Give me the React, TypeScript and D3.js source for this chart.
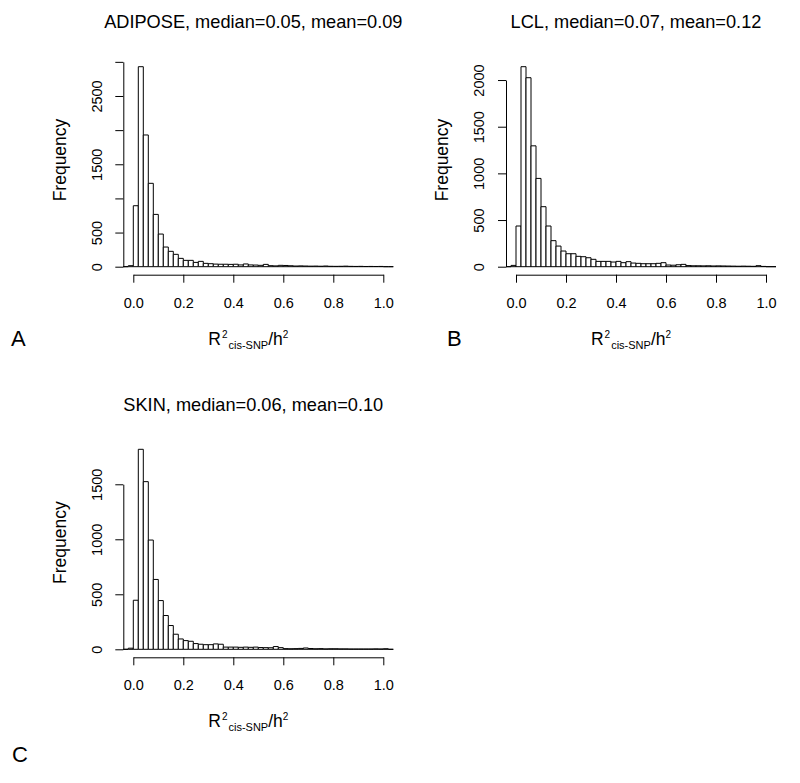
import React, { useEffect, useRef } from 'react';
import * as d3 from 'd3';

// histogram bin edges (width 0.02)
const binEdges = [
  -0.04, -0.02, 0, 0.02, 0.04, 0.06, 0.08, 0.1, 0.12, 0.14, 0.16, 0.18, 0.2, 0.22,
  0.24, 0.26, 0.28, 0.3, 0.32, 0.34, 0.36, 0.38, 0.4, 0.42, 0.44, 0.46, 0.48, 0.5,
  0.52, 0.54, 0.56, 0.58, 0.6, 0.62, 0.64, 0.66, 0.68, 0.7, 0.72, 0.74, 0.76, 0.78,
  0.8, 0.82, 0.84, 0.86, 0.88, 0.9, 0.92, 0.94, 0.96, 0.98, 1.0, 1.02, 1.04,
];

const adiposeCounts = [
  0, 15, 893, 2929, 1929, 1221, 766, 478, 288, 225, 181, 122, 93, 93,
  63, 78, 49, 44, 38, 36, 36, 34, 36, 26, 40, 26, 24, 20,
  34, 15, 12, 20, 18, 14, 10, 12, 10, 8, 9, 7, 10, 6,
  5, 6, 8, 5, 4, 5, 3, 4, 3, 4, 0, 0,
];

const lclCounts = [
  0, 14, 436, 2143, 2025, 1295, 946, 643, 436, 279, 221, 168, 139, 139,
  111, 107, 96, 79, 57, 57, 57, 50, 57, 43, 54, 39, 36, 32,
  32, 32, 36, 43, 18, 16, 21, 25, 12, 10, 10, 9, 10, 8,
  9, 8, 7, 6, 5, 6, 5, 4, 11, 3, 0, 0,
];

const skinCounts = [
  0, 10, 446, 1818, 1524, 993, 635, 443, 307, 216, 137, 94, 79, 73,
  52, 46, 42, 42, 49, 46, 20, 20, 20, 18, 20, 18, 20, 16,
  15, 14, 25, 15, 6, 5, 6, 8, 12, 7, 5, 6, 4, 5,
  5, 4, 4, 3, 3, 3, 3, 3, 4, 3, 5, 0,
];

const xTicks = [0, 0.2, 0.4, 0.6, 0.8, 1.0];
const adiposeYTicks = [0, 500, 1000, 1500, 2000, 2500, 3000];
const adiposeYLabels = [0, 500, 1500, 2500];
const lclYTicks = [0, 500, 1000, 1500, 2000];
const skinYTicks = [0, 500, 1000, 1500];

const titles = [
  'ADIPOSE, median=0.05, mean=0.09',
  'LCL, median=0.07, mean=0.12',
  'SKIN, median=0.06, mean=0.10',
];
const letters = ['A', 'B', 'C'];

const panels = [
  { title: titles[0], letter: letters[0], counts: adiposeCounts, yTicks: adiposeYTicks, yLabels: adiposeYLabels, left: 123.3, bottom: 274.7, letterX: 11, letterY: 345.5 },
  { title: titles[1], letter: letters[1], counts: lclCounts, yTicks: lclYTicks, yLabels: lclYTicks, left: 506, bottom: 274.7, letterX: 447, letterY: 345.5 },
  { title: titles[2], letter: letters[2], counts: skinCounts, yTicks: skinYTicks, yLabels: skinYTicks, left: 123.3, bottom: 657.3, letterX: 12, letterY: 762 },
];

const FONT = '"Liberation Sans", Arial, Helvetica, sans-serif';
const plotW = 270;
const plotH = 216;

const App = () => {
  const svgRef = useRef<SVGSVGElement>(null);

  useEffect(() => {
    const svg = d3.select(svgRef.current);
    svg.selectAll('*').remove();

    panels.forEach((p) => {
      const g = svg.append('g');
      const x = d3.scaleLinear().domain([-0.04, 1.04]).range([p.left, p.left + plotW]);
      const maxCount = d3.max(p.counts) as number;
      const y = d3
        .scaleLinear()
        .domain([-0.04 * maxCount, 1.04 * maxCount])
        .range([p.bottom, p.bottom - plotH]);

      const bins = p.counts.map((c, i) => ({ x0: binEdges[i], x1: binEdges[i + 1], count: c }));

      // bars as paths so empty bins still draw their baseline
      g.selectAll('path.bar')
        .data(bins)
        .join('path')
        .attr('class', 'bar')
        .attr('d', (d) => {
          const x0 = x(d.x0), x1 = x(d.x1), y0 = y(0), y1 = y(d.count);
          return `M${x0},${y0}V${y1}H${x1}V${y0}Z`;
        })
        .attr('fill', 'white')
        .attr('stroke', 'black')
        .attr('stroke-width', 1);

      // x axis
      const xAxisScale = d3.scaleLinear().domain([0, 1]).range([x(0), x(1)]);
      const xAxis = g
        .append('g')
        .attr('transform', `translate(0,${p.bottom})`)
        .call(d3.axisBottom(xAxisScale).tickValues(xTicks).tickSize(8).tickSizeOuter(0).tickFormat(d3.format('.1f')));
      xAxis.select('.domain').attr('stroke', 'black').attr('stroke-width', 1);
      xAxis.selectAll('.tick line').attr('stroke', 'black');
      xAxis
        .selectAll('.tick text')
        .attr('y', 33)
        .attr('dy', 0)
        .attr('fill', 'black')
        .attr('font-size', 14.5)
        .attr('font-family', FONT);

      // y axis
      const yMaxTick = p.yTicks[p.yTicks.length - 1];
      const yAxisScale = d3.scaleLinear().domain([0, yMaxTick]).range([y(0), y(yMaxTick)]);
      const yAxis = g
        .append('g')
        .attr('transform', `translate(${p.left},0)`)
        .call(
          d3
            .axisLeft(yAxisScale)
            .tickValues(p.yTicks)
            .tickSize(8)
            .tickSizeOuter(0)
            .tickFormat((d) => (p.yLabels.includes(d as number) ? String(d) : ''))
        );
      yAxis.select('.domain').attr('stroke', 'black').attr('stroke-width', 1);
      yAxis.selectAll('.tick line').attr('stroke', 'black');
      yAxis
        .selectAll('.tick text')
        .attr('transform', 'rotate(-90)')
        .attr('x', 0)
        .attr('y', -21.6)
        .attr('dy', 0)
        .attr('text-anchor', 'middle')
        .attr('fill', 'black')
        .attr('font-size', 14.5)
        .attr('font-family', FONT);

      // title
      g.append('text')
        .attr('x', p.left + 130)
        .attr('y', p.bottom - 246.4)
        .attr('text-anchor', 'middle')
        .attr('font-size', 18.2)
        .attr('font-family', FONT)
        .text(p.title);

      // y label
      g.append('text')
        .attr('transform', `translate(${p.left - 57.8},${p.bottom - 114.7}) rotate(-90)`)
        .attr('text-anchor', 'middle')
        .attr('font-size', 17.5)
        .attr('font-family', FONT)
        .text('Frequency');

      // x label  R^2_{cis-SNP}/h^2
      const xl = g
        .append('text')
        .attr('x', p.left + 125)
        .attr('y', p.bottom + 70)
        .attr('text-anchor', 'middle')
        .attr('font-size', 17.5)
        .attr('font-family', FONT);
      xl.append('tspan').text('R');
      xl.append('tspan').attr('font-size', 10).attr('dy', -7).attr('dx', 1).text('2');
      xl.append('tspan').attr('font-size', 11).attr('dy', 11).attr('dx', 1).text('cis-SNP');
      xl.append('tspan').attr('dy', -4).text('/h');
      xl.append('tspan').attr('font-size', 10).attr('dy', -7).text('2');

      // panel letter
      g.append('text')
        .attr('x', p.letterX)
        .attr('y', p.letterY)
        .attr('font-size', 22)
        .attr('font-family', FONT)
        .text(p.letter);
    });
  }, []);

  return (
    <svg
      ref={svgRef}
      width={800}
      height={783}
      style={{ position: 'absolute', left: 0, top: 0, background: 'white' }}
    />
  );
};

export default App;
